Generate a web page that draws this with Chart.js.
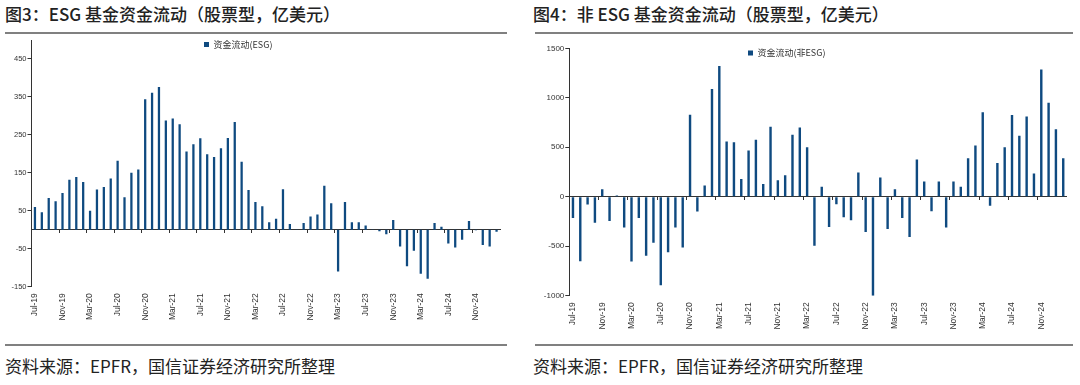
<!DOCTYPE html>
<html><head><meta charset="utf-8">
<script src="https://cdn.jsdelivr.net/npm/chart.js@4.4.0/dist/chart.umd.min.js"></script>
<style>
html,body{margin:0;padding:0;background:#fff;width:1080px;height:385px;overflow:hidden;position:relative;font-family:"Noto Sans CJK SC",sans-serif;}
.title{position:absolute;top:2px;font-size:17px;line-height:24px;color:#222;white-space:nowrap;font-weight:500;}
.rule{position:absolute;height:2px;background:#808080;}
.src{position:absolute;top:355px;font-size:17px;line-height:22px;color:#222;white-space:nowrap;}
.wrap{position:absolute;top:0;}
</style></head><body>
<div class="title" style="left:5px">图3：ESG 基金资金流动（股票型，亿美元）</div>
<div class="title" style="left:533px">图4：非 ESG 基金资金流动（股票型，亿美元）</div>
<div class="rule" style="left:5px;width:502px;top:32px"></div>
<div class="rule" style="left:535px;width:538px;top:32px"></div>
<div class="wrap" style="left:0;width:520px;height:330px"><canvas id="c1" width="520" height="330"></canvas></div>
<div class="wrap" style="left:540px;width:540px;height:330px"><canvas id="c2" width="540" height="330"></canvas></div>
<div class="rule" style="left:5px;width:502px;top:344px"></div>
<div class="rule" style="left:535px;width:538px;top:344px"></div>
<div class="src" style="left:5px">资料来源：EPFR，国信证券经济研究所整理</div>
<div class="src" style="left:533px">资料来源：EPFR，国信证券经济研究所整理</div>
<script>
// ---- data ----
const months = [
 "Jul-19","Aug-19","Sep-19","Oct-19","Nov-19","Dec-19",
 "Jan-20","Feb-20","Mar-20","Apr-20","May-20","Jun-20","Jul-20","Aug-20","Sep-20","Oct-20","Nov-20","Dec-20",
 "Jan-21","Feb-21","Mar-21","Apr-21","May-21","Jun-21","Jul-21","Aug-21","Sep-21","Oct-21","Nov-21","Dec-21",
 "Jan-22","Feb-22","Mar-22","Apr-22","May-22","Jun-22","Jul-22","Aug-22","Sep-22","Oct-22","Nov-22","Dec-22",
 "Jan-23","Feb-23","Mar-23","Apr-23","May-23","Jun-23","Jul-23","Aug-23","Sep-23","Oct-23","Nov-23","Dec-23",
 "Jan-24","Feb-24","Mar-24","Apr-24","May-24","Jun-24","Jul-24","Aug-24","Sep-24","Oct-24","Nov-24","Dec-24",
 "Jan-25","Feb-25"];
const esgFlows = [
 60,46,84,75,97,132,
 139,126,50,106,113,135,182,86,150,159,344,361,
 376,288,293,278,206,225,241,199,192,215,242,284,
 179,105,73,62,20,29,107,15,1,18,35,40,
 116,70,-110,73,20,20,11,1,-4,-12,26,-44,
 -96,-55,-116,-129,18,8,-36,-47,-26,23,-1,-40,
 -44,-5];
const nonEsgFlows = [
 -214,-652,-79,-264,76,-244,
 12,-311,-655,-214,-596,-464,-895,-561,-311,-514,829,-149,
 113,1088,1321,558,551,180,467,575,130,707,167,218,
 626,700,500,-495,100,-305,-76,-208,-238,245,-356,-1000,
 194,-325,76,-214,-406,376,154,-147,154,-311,154,100,
 389,518,855,-92,342,500,825,616,811,234,1287,950,
 683,389];
const esgTicks = [-150,-50,50,150,250,350,450];
const nonEsgTicks = [-1000,-500,0,500,1000,1500];
const esgLabel = "资金流动(ESG)";
const nonEsgLabel = "资金流动(非ESG)";

const BAR = '#0f4a80';
const AX = '#333333';
const CJK = '"Noto Sans CJK SC", sans-serif';
const NUM = '"Liberation Sans Narrow","Liberation Sans", Arial, sans-serif';

const legendShift = {
  id: 'legendShift',
  afterLayout(chart, args, opts) {
    const lg = chart.legend;
    if (!lg || opts.x == null) return;
    const dx = opts.x - lg.left;
    lg.left += dx; lg.right += dx;
    const dy = opts.y - lg.top;
    lg.top += dy; lg.bottom += dy;
  }
};

function makeChart(id, values, label, yMin, yMax, yTicks, yW, xH, pad, legendX, legendY, numSize) {
  return new Chart(document.getElementById(id), {
    type: 'bar',
    data: { labels: months, datasets: [{ label, data: values, backgroundColor: BAR, borderWidth: 0,
      categoryPercentage: 1, barPercentage: 0.33 }] },
    plugins: [legendShift],
    options: {
      responsive: false, devicePixelRatio: 1, animation: false,
      layout: { padding: pad },
      plugins: {
        legend: { position: 'chartArea', align: 'start',
          labels: { boxWidth: 5, boxHeight: 5, padding: 0, color: AX, font: { size: 9, family: CJK } } },
        tooltip: { enabled: false },
        legendShift: { x: legendX, y: legendY }
      },
      scales: {
        x: {
          type: 'category', position: 'bottom', offset: true,
          border: { display: false }, grid: { display: false, drawTicks: false },
          ticks: { autoSkip: false, minRotation: 90, maxRotation: 90, padding: 6.5, color: AX,
            font: { size: 8.5, family: '"Liberation Sans", Arial, sans-serif' },
            callback: (v, i) => (i % 4 === 0 ? months[i] : '') },
          afterFit: s => { s.height = xH; }
        },
        x0: {
          type: 'category', position: { y: 0 }, offset: true,
          border: { display: true, color: AX, width: 1 },
          grid: { display: true, offset: true, drawOnChartArea: false, drawTicks: true, tickLength: 3,
            color: c => (c.index % 4 === 0 ? AX : 'rgba(0,0,0,0)') },
          ticks: { display: false }
        },
        y: {
          min: yMin, max: yMax,
          border: { display: true, color: AX, width: 1 },
          grid: { display: true, drawOnChartArea: false, drawTicks: true, tickLength: 4, color: AX },
          ticks: { color: AX, padding: 1, font: { size: numSize, family: NUM }, callback: v => String(v) },
          afterBuildTicks: s => { s.ticks = yTicks.map(v => ({ value: v })); },
          afterFit: s => { s.width = yW; }
        }
      }
    }
  });
}

makeChart('c1', esgFlows, esgLabel, -150, 500, esgTicks, 31.5, 43.3,
  { left: 0, top: 40, right: 20, bottom: 0 }, 204, 40, 7.5);
makeChart('c2', nonEsgFlows, nonEsgLabel, -1000, 1500, nonEsgTicks, 29.3, 34.3,
  { left: 0, top: 48.3, right: 9, bottom: 0 }, 208, 48.5, 8);
</script>
</body></html>
